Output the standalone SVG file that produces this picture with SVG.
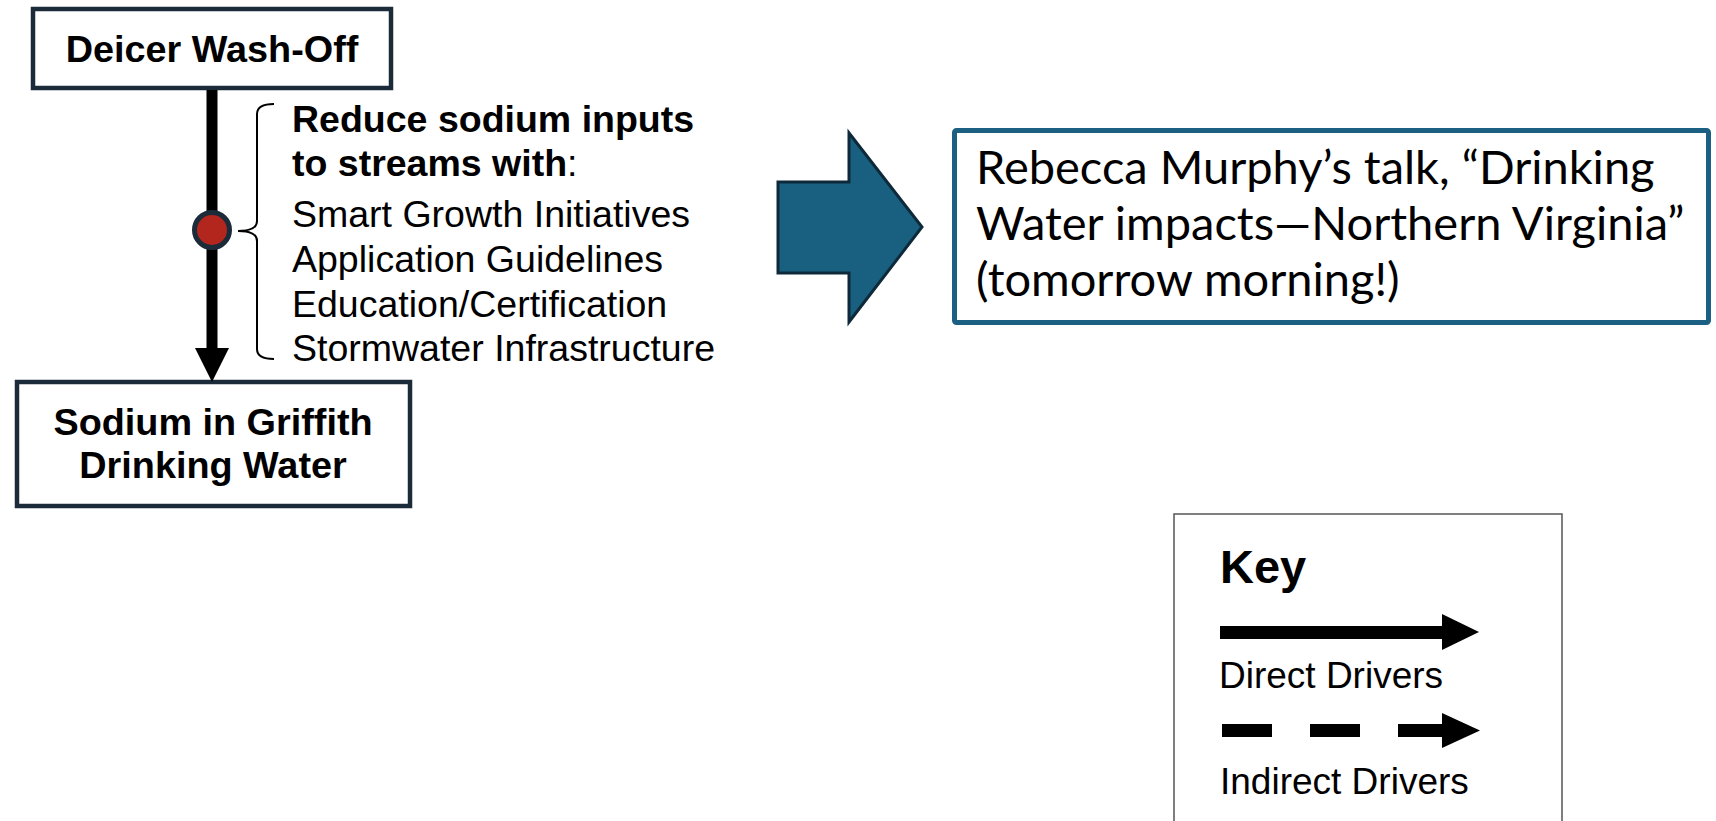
<svg xmlns="http://www.w3.org/2000/svg" width="1716" height="821" viewBox="0 0 1716 821">
<style>
.node{fill:#fff;stroke:#1c2b3a;stroke-width:4.5}
.nt{font-family:"Liberation Sans",Arial,sans-serif;font-weight:bold;font-size:37.8px;fill:#000;text-anchor:middle}
.lt{font-family:"Liberation Sans",Arial,sans-serif;font-size:37.5px;fill:#000}
.b{font-weight:bold}
.tt{font-family:Lato,"Open Sans",sans-serif;font-size:47px;fill:#000}
.kt{font-family:"Liberation Sans",Arial,sans-serif;font-size:37px;fill:#000}
</style>
<rect width="1716" height="821" fill="#fff"/>
<g id="deicer">
<rect class="node" x="33" y="9" width="358" height="79"/>
<text class="nt" x="212" y="62">Deicer Wash-Off</text>
</g>
<g id="sodium">
<rect class="node" x="17" y="382" width="393" height="124"/>
<text class="nt" x="213" y="435">Sodium in Griffith</text>
<text class="nt" x="213" y="478">Drinking Water</text>
</g>
<g id="connectors">
<line x1="212" y1="90" x2="212" y2="352" stroke="#000" stroke-width="11"/>
<polygon points="195,348 229,348 212,382" fill="#000"/>
<circle cx="212" cy="230" r="17.5" fill="#b3261e" stroke="#1c2b3a" stroke-width="5"/>
</g>
<g id="strategies">
<path d="M274,104 Q257,104 257,114 L257,221 Q257,231 238,231 Q257,231 257,241 L257,349 Q257,359 274,359" fill="none" stroke="#000" stroke-width="2"/>
<text class="lt" x="292" y="132"><tspan class="b">Reduce sodium inputs</tspan></text>
<text class="lt" x="292" y="176"><tspan class="b">to streams with</tspan>:</text>
<text class="lt" x="292" y="227">Smart Growth Initiatives</text>
<text class="lt" x="292" y="272">Application Guidelines</text>
<text class="lt" x="292" y="317">Education/Certification</text>
<text class="lt" x="292" y="361">Stormwater Infrastructure</text>
</g>
<g id="bigarrow">
<polygon points="778,182 849,182 849,133 922,227 849,322 849,273 778,273" fill="#185f80" stroke="#0e2a3a" stroke-width="3" stroke-linejoin="miter"/>
</g>
<g id="talk">
<rect x="954.5" y="130.5" width="754" height="192" rx="2" fill="#fff" stroke="#1b6082" stroke-width="5"/>
<text class="tt" x="976" y="184">Rebecca Murphy’s talk, “Drinking</text>
<text class="tt" x="976" y="240">Water impacts—Northern Virginia”</text>
<text class="tt" x="976" y="296">(tomorrow morning!)</text>
</g>
<g id="key">
<rect x="1174" y="514" width="388" height="320" fill="#fff" stroke="#555" stroke-width="1.5"/>
<text class="kt b" x="1220" y="583" style="font-size:47px">Key</text>
<rect x="1220" y="626" width="224" height="13" fill="#000"/>
<polygon points="1442,614 1479,632 1442,650" fill="#000"/>
<text class="kt" x="1219" y="688">Direct Drivers</text>
<rect x="1222" y="724" width="50" height="13" fill="#000"/>
<rect x="1310" y="724" width="50" height="13" fill="#000"/>
<rect x="1398" y="724" width="46" height="13" fill="#000"/>
<polygon points="1442,713 1480,730.5 1442,748" fill="#000"/>
<text class="kt" x="1220" y="794">Indirect Drivers</text>
</g>
</svg>
